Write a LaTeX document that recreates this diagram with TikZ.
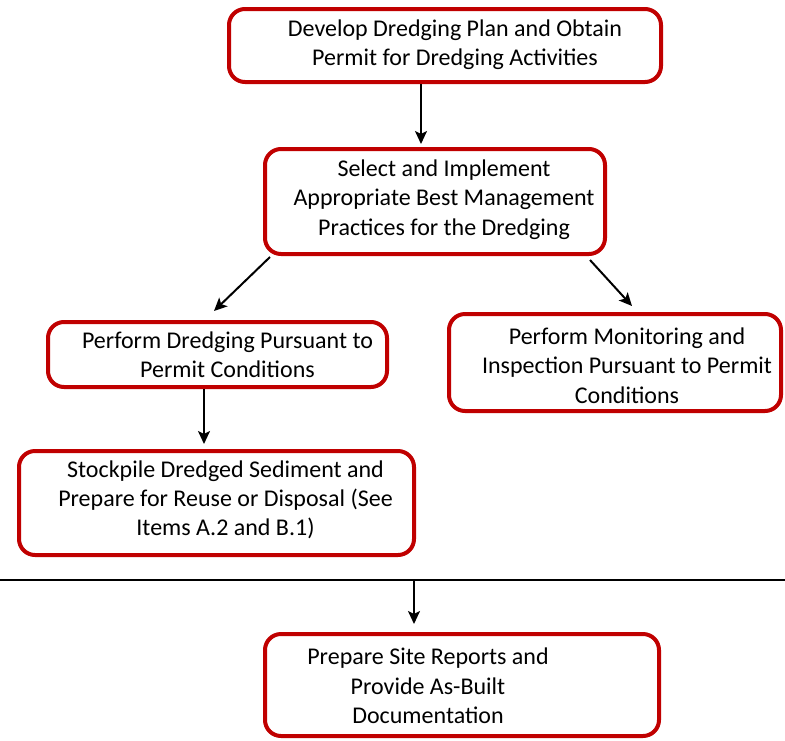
\documentclass[tikz,border=0pt]{standalone}
\usepackage{fontspec}
\setmainfont{Carlito}
\usetikzlibrary{arrows.meta}
\definecolor{boxred}{HTML}{C00000}
\begin{document}
\begin{tikzpicture}[x=1pt,y=-1pt,
  stepbox/.style={draw=boxred, line width=4pt, rounded corners=16pt, fill=white, inner sep=0pt},
  boxtext/.style={align=center, inner sep=0pt, font=\fontsize{24}{29.3}\selectfont},
  arr/.style={line width=2pt, -{Stealth[length=13pt,width=12pt,inset=3pt]}},
  rule/.style={line width=2pt}]
\useasboundingbox (0,0) rectangle (785,740);

% boxes
\node[stepbox, minimum width=432pt, minimum height=73pt]  (n1) at (445,45.5) {};
\node[stepbox, minimum width=340pt, minimum height=105pt] (n2) at (435,201.5) {};
\node[stepbox, minimum width=339pt, minimum height=65pt]  (n3) at (217.5,354.5) {};
\node[stepbox, minimum width=332pt, minimum height=97pt]  (n4) at (615,362.5) {};
\node[stepbox, minimum width=395pt, minimum height=104pt] (n5) at (216.5,503) {};
\node[stepbox, minimum width=394pt, minimum height=102pt] (n6) at (462,685) {};

% labels
\node[boxtext] (t1) at ([shift={(10,-1)}]n1.center) {Develop Dredging Plan and Obtain\\Permit for Dredging Activities};
\node[boxtext] (t2) at ([shift={(9,-2)}]n2.center) {Select and Implement\\Appropriate Best Management\\Practices for the Dredging};
\node[boxtext] (t3) at ([shift={(10,0)}]n3.center) {Perform Dredging Pursuant to\\Permit Conditions};
\node[boxtext] (t4) at ([shift={(12,3)}]n4.center) {Perform Monitoring and\\Inspection Pursuant to Permit\\Conditions};
\node[boxtext] (t5) at ([shift={(9,-3)}]n5.center) {Stockpile Dredged Sediment and\\Prepare for Reuse or Disposal (See\\Items A.2 and B.1)};
\node[boxtext] (t6) at ([shift={(-34,1)}]n6.center) {Prepare Site Reports and\\Provide As-Built\\Documentation};

% separator line
\coordinate (lineL) at (0,580);
\coordinate (lineR) at (785,580);
\draw[rule] (lineL) -- (lineR);
\coordinate (lineTap) at (414,580);

% connectors
\draw[arr] ([xshift=-24pt]n1.south) -- ([shift={(-14,-3)}]n2.north);
\draw[arr] ([shift={(7,1)}]n2.south west) -- ([shift={(-3.5,-9)}]n3.north);
\draw[arr] ([shift={(-17,4)}]n2.south east) -- ([shift={(17,-6)}]n4.north);
\draw[arr] ([xshift=-13.5pt]n3.south) -- ([shift={(-12.5,-5)}]n5.north);
\draw[arr] (lineTap) -- ([shift={(-48,-8)}]n6.north);
\end{tikzpicture}
\end{document}
